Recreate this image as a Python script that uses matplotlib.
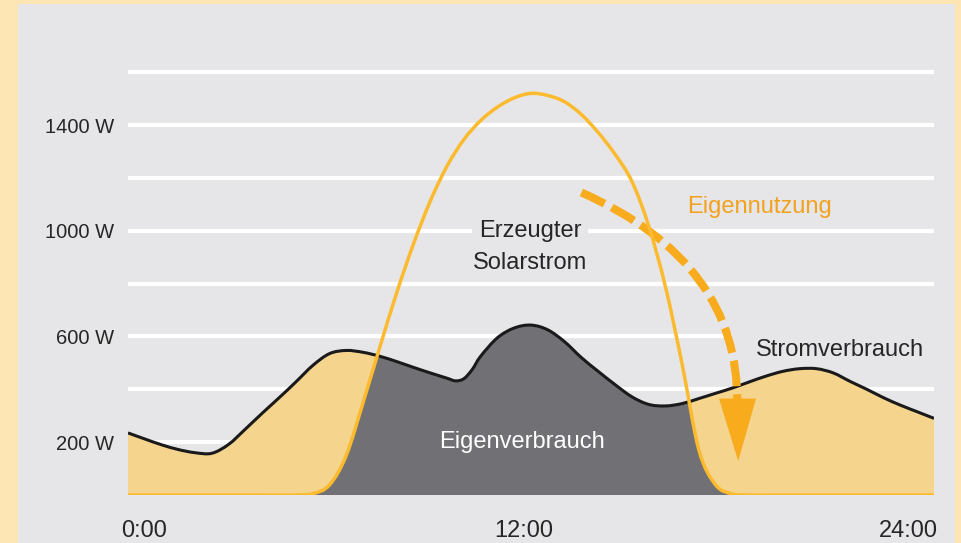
import numpy as np
import matplotlib
matplotlib.use("Agg")
import matplotlib.pyplot as plt
from matplotlib.patches import Rectangle, PathPatch, Polygon
from matplotlib.path import Path

# ---------------- data ----------------
solar_hours = [0, 1, 2, 3, 4, 5, 5.5, 6, 6.5, 7, 7.5, 8, 8.5, 9, 9.5, 10, 10.5, 11,
               11.5, 12, 12.5, 13, 13.5, 14, 14.5, 15, 15.5, 16, 16.5, 17, 17.5, 18,
               18.5, 19, 20, 21, 22, 23, 24]
solar_w = [0, 0, 0, 0, 0, 0, 5, 38, 150, 350, 560, 765, 950, 1112, 1245, 1345, 1417, 1468,
           1503, 1520, 1512, 1488, 1440, 1372, 1290, 1188, 1020, 790, 495, 170, 38, 4,
           0, 0, 0, 0, 0, 0, 0]

cons_hours = [0, 0.5, 1, 1.5, 2, 2.5, 3, 3.5, 4, 4.5, 5, 5.5, 6, 6.5, 7, 7.5, 8, 8.5,
              9, 9.5, 9.75, 10, 10.25, 10.5, 11, 11.5, 12, 12.5, 13, 13.5, 14, 14.5,
              15, 15.5, 16, 16.5, 17, 17.5, 18, 18.5, 19, 19.5, 20, 20.5, 21, 21.5,
              22, 22.5, 23, 23.5, 24]
consumption_w = [235, 212, 190, 172, 160, 158, 192, 250, 310, 368, 428, 490, 535, 547, 540,
                 525, 505, 483, 462, 442, 432, 440, 475, 525, 595, 632, 643, 625, 580,
                 520, 468, 418, 372, 343, 337, 346, 365, 385, 405, 428, 450, 468, 478,
                 478, 462, 430, 400, 368, 340, 315, 290]

grid_levels = [200, 400, 600, 800, 1000, 1200, 1400, 1600]
ytick_vals = [200, 600, 1000, 1400]
ytick_labels = ["200 W", "600 W", "1000 W", "1400 W"]
xtick_vals = [0, 12, 24]
xtick_labels = ["0:00", "12:00", "24:00"]

# ---------------- style ----------------
CREAM = "#FEE6B4"
PANEL = "#E6E6E8"
SUN = "#FCBA2E"
FILL_Y = "#F5D48E"
FILL_G = "#707075"
ARROW = "#F8AC1D"
TXT = "#262626"

plt.rcParams["font.family"] = ["Liberation Sans", "DejaVu Sans"]


def smooth_path(x, y):
    """Smooth Bezier path through the given points (Catmull-Rom style)."""
    x = np.asarray(x, float)
    y = np.asarray(y, float)
    px = np.concatenate([[x[0]], x, [x[-1]]])
    py = np.concatenate([[y[0]], y, [y[-1]]])
    verts = [(x[0], y[0])]
    codes = [Path.MOVETO]
    for i in range(1, len(px) - 2):
        c1 = (px[i] + (px[i + 1] - px[i - 1]) / 6, py[i] + (py[i + 1] - py[i - 1]) / 6)
        c2 = (px[i + 1] - (px[i + 2] - px[i]) / 6, py[i + 1] - (py[i + 2] - py[i]) / 6)
        verts += [c1, c2, (px[i + 1], py[i + 1])]
        codes += [Path.CURVE4] * 3
    return verts, codes


def area_path(x, y):
    verts, codes = smooth_path(x, y)
    verts = [(x[0], 0)] + verts + [(x[-1], 0), (x[0], 0)]
    codes = [Path.MOVETO] + [Path.LINETO] + codes[1:] + [Path.LINETO, Path.CLOSEPOLY]
    return Path(verts, codes)


fig = plt.figure(figsize=(9.62, 5.43), dpi=100, facecolor=CREAM)
fig.patches.append(Rectangle((18 / 962, 0), (955 - 18) / 962, (543 - 4) / 543,
                             transform=fig.transFigure, facecolor=PANEL,
                             edgecolor="none", zorder=-5))

ax = fig.add_axes([128 / 962, 48 / 543, (934 - 128) / 962, 449.2 / 543])
ax.set_zorder(2)
ax.set_facecolor("none")
ax.set_xlim(0, 24)
ax.set_ylim(0, 1700)
for s in ax.spines.values():
    s.set_visible(False)

# white grid lines (600 W line ends before the "Stromverbrauch" label)
for g in grid_levels:
    xmax = 18.0 if g == 600 else 24
    ax.hlines(g, 0, xmax, colors="white", linewidth=3, zorder=1)

# fills: yellow under consumption, grey under solar clipped to consumption area
cons_area = PathPatch(area_path(cons_hours, consumption_w), facecolor=FILL_Y,
                      edgecolor="none", zorder=2)
ax.add_patch(cons_area)
sol_area = PathPatch(area_path(solar_hours, solar_w), facecolor=FILL_G,
                     edgecolor="none", zorder=2.5)
ax.add_patch(sol_area)
sol_area.set_clip_path(cons_area)

# consumption line
cv, cc = smooth_path(cons_hours, consumption_w)
ax.add_patch(PathPatch(Path(cv, cc), facecolor="none", edgecolor="#1a1a1a",
                       linewidth=2.2, zorder=4))

# dashed "Eigennutzung" arrow (annotation)
p0 = (13.5, 1145)
c1 = (18.2, 880)
p2 = (18.14, 345)
arc = Path([p0, c1, p2], [Path.MOVETO, Path.CURVE3, Path.CURVE3])
ax.add_patch(PathPatch(arc, facecolor="none", edgecolor=ARROW, linewidth=5.8,
                       linestyle=(0, (3.2, 1.0)), capstyle="butt", zorder=5))
ax.add_patch(Polygon([(17.6, 365), (18.7, 365), (18.17, 128)], closed=True,
                     facecolor=ARROW, edgecolor="none", zorder=5))

# solar line
sv, sc = smooth_path(solar_hours, solar_w)
ax.add_patch(PathPatch(Path(sv, sc), facecolor="none", edgecolor=SUN,
                       linewidth=2.5, zorder=6))

# ticks
ax.set_xticks([])
ax.set_yticks(ytick_vals)
ax.set_yticklabels(ytick_labels, fontsize=14.5, color=TXT)
ax.tick_params(axis="y", length=0, pad=10)

aligns = ["left", "center", "right"]
offs = [-5, -5, 3]
for xv, lab, ha, off in zip(xtick_vals, xtick_labels, aligns, offs):
    ax.annotate(lab, xy=(xv, 0), xycoords=("data", "axes fraction"),
                xytext=(off, -26), textcoords="offset points",
                ha=ha, va="center", fontsize=17, color=TXT)

# labels inside chart
ax.text(11.97, 938, "Erzeugter\nSolarstrom", ha="center", va="center",
        fontsize=17, color=TXT, linespacing=1.55, zorder=7,
        bbox=dict(boxstyle="square,pad=0.05", facecolor=PANEL, edgecolor="none"))
ax.text(18.8, 1090, "Eigennutzung", ha="center", va="center",
        fontsize=17, color="#F2A21E", zorder=7)
ax.text(21.2, 550, "Stromverbrauch", ha="center", va="center",
        fontsize=17, color=TXT, zorder=7)
ax.text(11.73, 200, "Eigenverbrauch", ha="center", va="center",
        fontsize=17, color="white", zorder=7)

fig.savefig("out.png", dpi=100, facecolor=CREAM)
